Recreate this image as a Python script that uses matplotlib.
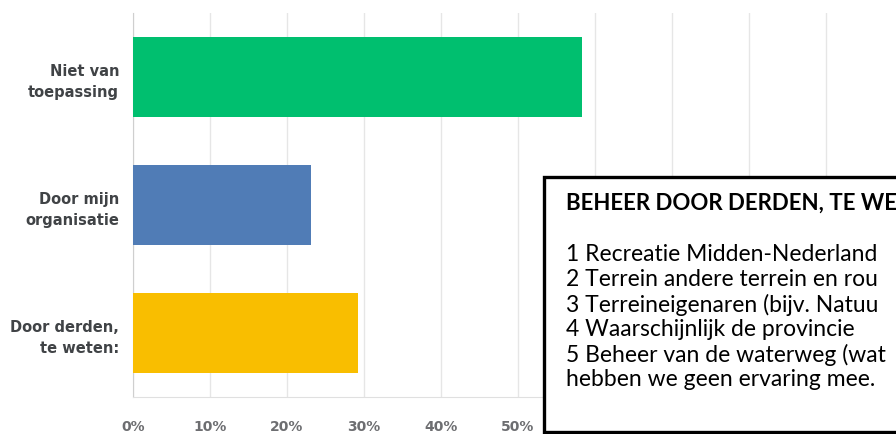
import matplotlib.pyplot as plt
from matplotlib.patches import Rectangle

# data
categories = ["Niet van\ntoepassing", "Door mijn\norganisatie", "Door derden,\nte weten:"]
values = [58.3, 23.1, 29.2]
bar_colors = ["#00bf6f", "#507cb6", "#f9be00"]
ticks = [0, 10, 20, 30, 40, 50, 60, 70, 80, 90]
tick_labels = [f"{t}%" for t in ticks]

# the pasted note runs off the right edge in the reference; keep the visible part
box_title = "BEHEER DOOR DERDEN, TE WE"
box_lines = [
    "1 Recreatie Midden-Nederland",
    "2 Terrein andere terrein en rou",
    "3 Terreineigenaren (bijv. Natuu",
    "4 Waarschijnlijk de provincie",
    "5 Beheer van de waterweg (wat",
    "hebben we geen ervaring mee.",
]

W, H = 896, 435
fig = plt.figure(figsize=(W / 100, H / 100), dpi=100)
fig.patch.set_facecolor("white")

# axes: left edge at x=133, 10% = 77 px, top y=14, bottom y=398
ax = fig.add_axes([133 / W, 1 - 398 / H, 770 / W, 384 / H])
ypos = list(range(len(categories)))
ax.barh(ypos, values, height=0.625, color=bar_colors, zorder=3)
ax.set_ylim(2.5, -0.5)
ax.set_xlim(0, 100)

ax.set_xticks(ticks)
ax.set_xticklabels(tick_labels, fontsize=10, fontweight="bold", color="#6d6e71",
                   family="DejaVu Sans")
ax.set_yticks(ypos)
ax.set_yticklabels(categories, fontsize=10.5, fontweight="bold", color="#404346",
                   family="DejaVu Sans", linespacing=1.5)
ax.tick_params(axis="both", length=0)
ax.tick_params(axis="y", pad=10)
ax.tick_params(axis="x", pad=16)
for lbl in ax.get_yticklabels():
    lbl.set_horizontalalignment("right")
    lbl.set_multialignment("right")

ax.grid(axis="x", color="#e6e6e6", linewidth=1, zorder=0)
for s in ["top", "right"]:
    ax.spines[s].set_visible(False)
ax.spines["left"].set_color("#cfcfcf")
ax.spines["bottom"].set_color("#e0e0e0")

# annotation box on top, running off the right edge like the reference
box = Rectangle((544 / W, 1 - 433 / H), 400 / W, 255 / H, transform=fig.transFigure,
                facecolor="white", edgecolor="black", linewidth=2.4, zorder=10)
fig.patches.append(box)

fig.text(566 / W, 1 - 203 / H, box_title, fontsize=16, fontweight="bold",
         family="Lato", va="center", ha="left", zorder=11)
for i, line in enumerate(box_lines):
    fig.text(566 / W, 1 - (255 + i * 25) / H, line, fontsize=16.5,
             family="Lato", va="center", ha="left", zorder=11)

fig.savefig("out.png", dpi=100, facecolor="white")
